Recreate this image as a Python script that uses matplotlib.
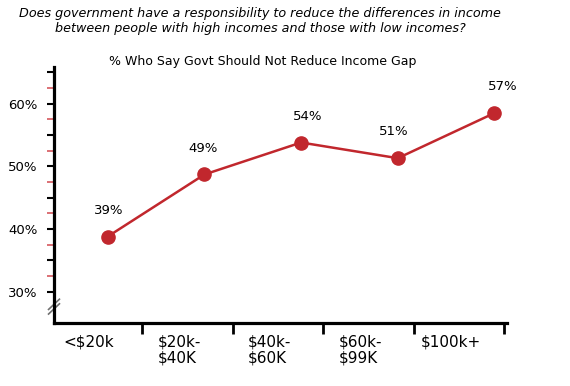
import matplotlib
matplotlib.use("Agg")
import matplotlib.pyplot as plt
import numpy as np

# ── data ─────────────────────────────────────────────────────────────────────
categories = ["<$20k", "$20k-\n$40K", "$40k-\n$60K", "$60k-\n$99K", "$100k+"]
values = [38.8, 48.7, 53.8, 51.3, 58.5]          # plotted positions
value_labels = ["39%", "49%", "54%", "51%", "57%"]
y_labels = [30, 40, 50, 60]

RED = "#C1272D"
plt.rcParams["font.family"] = ["DejaVu Sans"]

fig = plt.figure(figsize=(5.7, 3.86), dpi=100)
ax = fig.add_axes([54 / 570, 63 / 386, 453 / 570, 256 / 386])

# ── category axis ────────────────────────────────────────────────────────────
ax.set_xlim(0.028, 5.03)
ax.set_ylim(25, 65.85)
ax.set_xticks(np.arange(1, len(categories) + 1))
ax.set_xticklabels([])
ax.tick_params(axis="x", direction="out", length=8, width=2, color="black")
for i, cat in enumerate(categories):
    ax.text(i + 0.41, -0.045, cat, transform=ax.get_xaxis_transform(),
            ha="center", va="top", fontsize=11, multialignment="left",
            linespacing=1.05)

# ── value axis ───────────────────────────────────────────────────────────────
major = np.arange(30, 66, 5)
ax.set_yticks(major)
ax.set_yticklabels([f"{int(v)}%" if v in y_labels else "" for v in major],
                   fontsize=9.5)
ax.set_yticks(np.arange(32.5, 63, 5), minor=True)
ax.tick_params(axis="y", which="major", direction="out", length=5, width=1.5,
               color="black", pad=7)
ax.tick_params(axis="y", which="minor", direction="out", length=5, width=1.3,
               color="#D9646A")

for side in ["top", "right"]:
    ax.spines[side].set_visible(False)
for side in ["left", "bottom"]:
    ax.spines[side].set_linewidth(2.3)

# axis break marks
for dy in (0.0, 0.018):
    ax.plot([-0.012, 0.012], [0.035 + dy, 0.075 + dy], transform=ax.transAxes,
            color="#707070", lw=1.2, clip_on=False)

# ── line on its own horizontal scale ─────────────────────────────────────────
ax2 = ax.twiny()
ax2.set_xlim(-0.556, 4.13)
ax2.axis("off")
xs = np.arange(len(values))
ax2.plot(xs, values, color=RED, lw=1.8, marker="o", markersize=9.5,
         markerfacecolor=RED, markeredgecolor=RED, zorder=3)
label_dx = [1, -1, 7, -4, 8]
for x, v, lab, dx in zip(xs, values, value_labels, label_dx):
    ax2.annotate(lab, (x, v), xytext=(dx * 0.72, 19), textcoords="offset points",
                 ha="center", va="center", fontsize=9.5)

# ── titles ───────────────────────────────────────────────────────────────────
fig.text(260 / 570, 1 - 21 / 386,
         "Does government have a responsibility to reduce the differences in income\n"
         "between people with high incomes and those with low incomes?",
         ha="center", va="center", fontsize=9.2, style="italic", linespacing=1.2)
fig.text(263 / 570, 1 - 61 / 386, "% Who Say Govt Should Not Reduce Income Gap",
         ha="center", va="center", fontsize=9)

fig.savefig("out.png", dpi=100)
